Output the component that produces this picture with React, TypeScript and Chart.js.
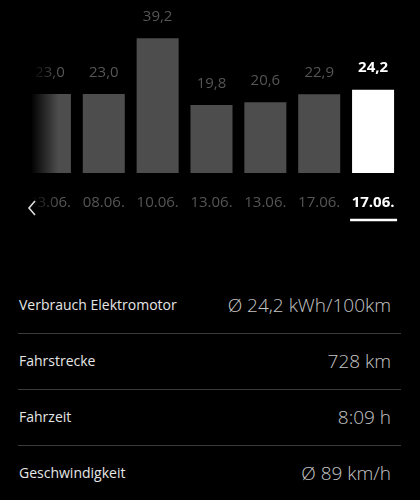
import React, { useEffect, useRef } from 'react'
import { Chart, registerables } from 'chart.js'

Chart.register(...registerables)

const days = ['03.06.', '08.06.', '10.06.', '13.06.', '13.06.', '17.06.', '17.06.']
const consumption = [23.0, 23.0, 39.2, 19.8, 20.6, 22.9, 24.2]
const selectedIndex = 6

const statLabels = ['Verbrauch Elektromotor', 'Fahrstrecke', 'Fahrzeit', 'Geschwindigkeit']
const statValues = ['Ø 24,2 kWh/100km', '728 km', '8:09 h', 'Ø 89 km/h']

const FONT = '"Open Sans", "Noto Sans", sans-serif'
const fmt = (v: number) => v.toFixed(1).replace('.', ',')

// value labels above the bars + underline under the selected day
const barLabels = {
  id: 'barLabels',
  afterDatasetsDraw(chart: any) {
    const { ctx } = chart
    const meta = chart.getDatasetMeta(0)
    ctx.save()
    ctx.textAlign = 'center'
    ctx.textBaseline = 'middle'
    meta.data.forEach((bar: any, i: number) => {
      const sel = i === selectedIndex
      ctx.fillStyle = sel ? '#ffffff' : '#555555'
      ctx.font = `${sel ? 'bold ' : ''}15px ${FONT}`
      ctx.fillText(fmt(consumption[i]), bar.x, bar.y - (sel ? 22 : 21))
    })
    const x = chart.scales.x.getPixelForValue(selectedIndex)
    ctx.strokeStyle = '#ffffff'
    ctx.lineWidth = 2.5
    ctx.beginPath()
    ctx.moveTo(x - 23, 220)
    ctx.lineTo(x + 24, 220)
    ctx.stroke()
    ctx.restore()
  },
}

function BarChart() {
  const canvasRef = useRef<HTMLCanvasElement>(null)

  useEffect(() => {
    if (!canvasRef.current) return
    const chart = new Chart(canvasRef.current, {
      type: 'bar',
      data: {
        labels: days,
        datasets: [{
          data: consumption,
          backgroundColor: consumption.map((_, i) => (i === selectedIndex ? '#ffffff' : '#4d4d4d')),
          barPercentage: 0.78,
          categoryPercentage: 1,
        }],
      },
      options: {
        animation: false,
        responsive: true,
        maintainAspectRatio: false,
        layout: { padding: { top: 1, left: 23, right: 20, bottom: 20 } },
        plugins: { legend: { display: false }, tooltip: { enabled: false } },
        scales: {
          y: { display: false, min: 0, max: 50 },
          x: {
            afterFit: (scale: any) => { scale.height = 57 },
            grid: { display: false, drawTicks: false },
            border: { display: false },
            ticks: {
              padding: 21,
              autoSkip: false,
              maxRotation: 0,
              color: (c: any) => (c.index === selectedIndex ? '#ffffff' : '#555555'),
              font: (c: any) => ({ family: FONT, size: 15, weight: c.index === selectedIndex ? 'bold' : 'normal' }),
            },
          },
        },
      },
      plugins: [barLabels],
    } as any)
    return () => chart.destroy()
  }, [])

  return (
    <div style={{ position: 'absolute', left: 0, top: 0, width: 420, height: 250 }}>
      <canvas ref={canvasRef} />
      <div style={{ position: 'absolute', left: 0, top: 0, width: 60, height: 250, background: 'linear-gradient(to right, #000 0px, #000 31px, rgba(0,0,0,0) 58px)' }} />
      <svg width="12" height="18" style={{ position: 'absolute', left: 27, top: 199 }}>
        <polyline points="8,2 2,9 8,16" fill="none" stroke="#dddddd" strokeWidth="1.6" />
      </svg>
    </div>
  )
}

export default function App() {
  return (
    <div style={{ position: 'absolute', left: 0, top: 0, width: 420, height: 500, background: '#000', overflow: 'hidden', fontFamily: FONT }}>
      <BarChart />
      {statLabels.map((label, i) => (
        <div key={label}>
          <div style={{ position: 'absolute', left: 19, top: 293 + i * 56, fontSize: 14, lineHeight: '24px', color: '#e6e6e6' }}>{label}</div>
          <div style={{ position: 'absolute', right: 29, top: 291 + i * 56, fontSize: 19, lineHeight: '28px', color: '#c4c4c4', fontWeight: 300 }}>{statValues[i]}</div>
          {i < statLabels.length - 1 && (
            <div style={{ position: 'absolute', left: 18, top: 333 + i * 56, width: 383, height: 1, background: '#3a3a3a' }} />
          )}
        </div>
      ))}
    </div>
  )
}
